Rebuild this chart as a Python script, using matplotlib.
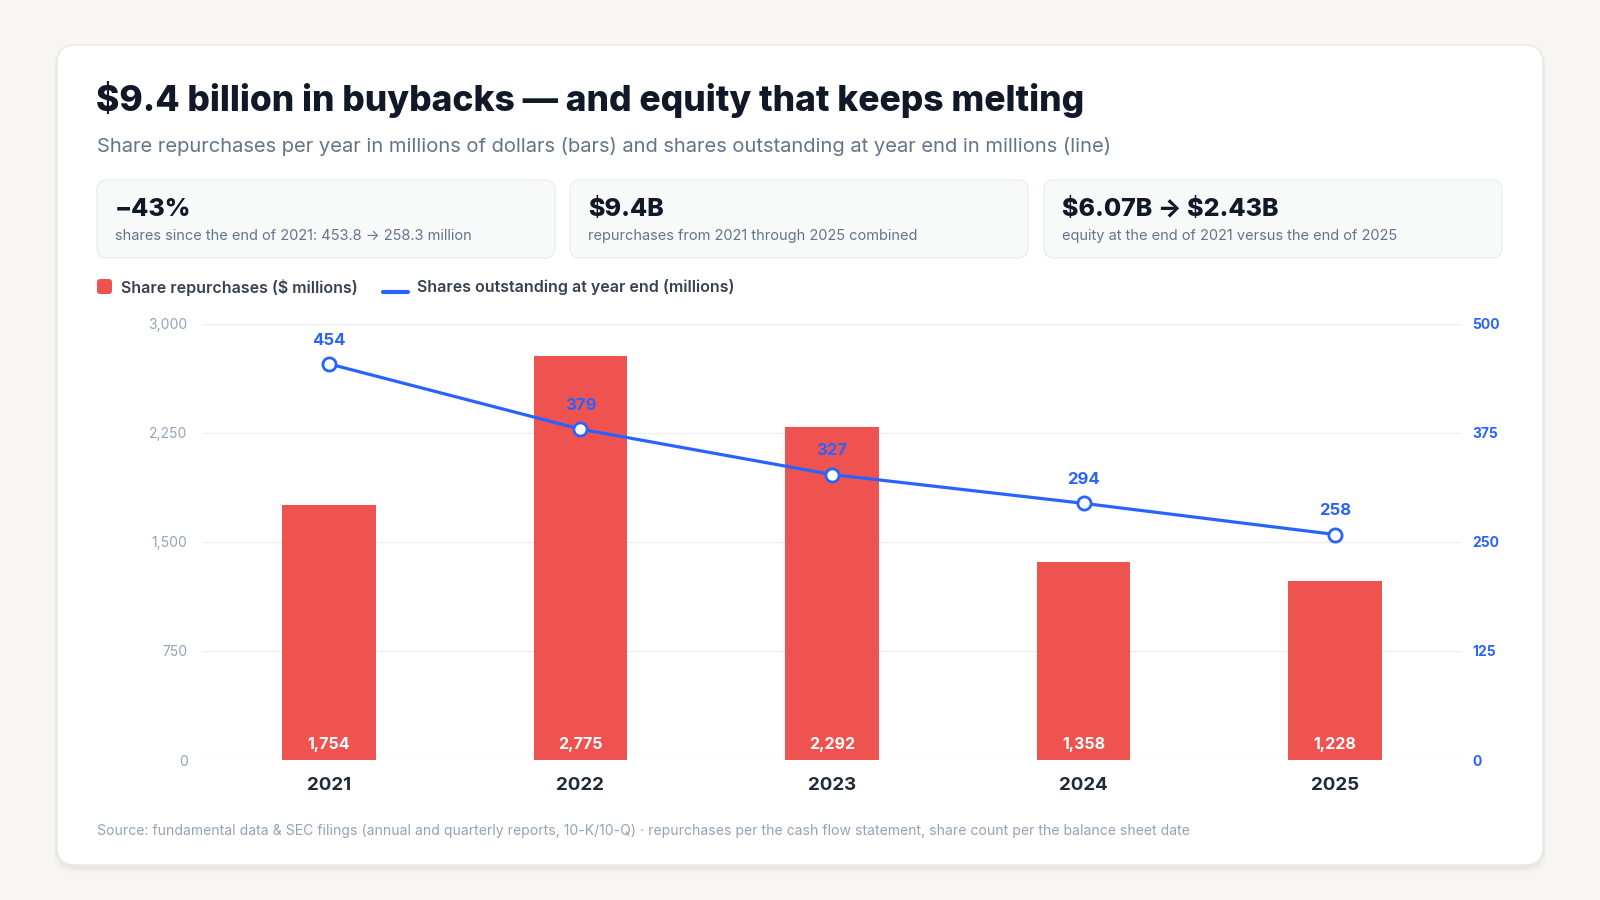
"""
Buybacks vs. shares outstanding, 2021-2025
"""

import matplotlib
matplotlib.use('Agg')
import matplotlib.pyplot as plt
from matplotlib.patches import FancyBboxPatch
from matplotlib.lines import Line2D

plt.rcParams['font.family'] = ['Inter', 'DejaVu Sans']

# data
years = ['2021', '2022', '2023', '2024', '2025']
repurchases = [1754, 2775, 2292, 1358, 1228]          # $ millions
shares_out = [453.8, 379.0, 327.0, 294.0, 258.3]      # millions
left_ticks = [0, 750, 1500, 2250, 3000]
right_ticks = [0, 125, 250, 375, 500]

kpi_values = ['\u221243%', '$9.4B', '$6.07B \u2192 $2.43B']
kpi_notes = ['shares since the end of 2021: 453.8 \u2192 258.3 million',
             'repurchases from 2021 through 2025 combined',
             'equity at the end of 2021 versus the end of 2025']

title = '$9.4 billion in buybacks \u2014 and equity that keeps melting'
subtitle = ('Share repurchases per year in millions of dollars (bars) and '
            'shares outstanding at year end in millions (line)')
source = ('Source: fundamental data & SEC filings (annual and quarterly reports, 10-K/10-Q) '
          '\u00b7 repurchases per the cash flow statement, share count per the balance sheet date')

# colors
BG = '#F7F6F2'
RED = '#EF5350'
BLUE = '#2962FF'
DARK = '#111827'
MID = '#64748B'
LIGHT = '#94A3B8'

W, H = 1600, 900
fig = plt.figure(figsize=(16, 9), dpi=100, facecolor=BG)

# background layer in pixel coordinates
bg = fig.add_axes([0, 0, 1, 1])
bg.set_xlim(0, W)
bg.set_ylim(H, 0)
bg.axis('off')

def txt(x, y, s, **kw):
    bg.text(x, y, s, va='center', ha='left', parse_math=False, **kw)

# card shadow + card
for i, a in enumerate([0.025, 0.02, 0.015]):
    d = 2 + i * 2
    bg.add_patch(FancyBboxPatch((57 - d / 2, 45 + 2), 1486 + d, 820 + d,
                                boxstyle='round,pad=0,rounding_size=20',
                                facecolor='black', alpha=a, edgecolor='none'))
bg.add_patch(FancyBboxPatch((57, 45), 1486, 820,
                            boxstyle='round,pad=0,rounding_size=18',
                            facecolor='white', edgecolor='#E8E8E8', linewidth=1))

txt(96, 100, title, fontsize=25.5, fontweight='heavy', color=DARK)
txt(97, 146.5, subtitle, fontsize=14.5, color=MID)

# KPI boxes
kpi_x = [97, 570, 1044]
for x, val, note in zip(kpi_x, kpi_values, kpi_notes):
    bg.add_patch(FancyBboxPatch((x, 180), 458, 78,
                                boxstyle='round,pad=0,rounding_size=10',
                                facecolor='#F8F9F9', edgecolor='#ECEEEF', linewidth=1))
    txt(x + 18, 209, val, fontsize=18, fontweight='heavy', color=DARK)
    txt(x + 18, 236, note, fontsize=10.5, color=MID)

# legend
bg.add_patch(FancyBboxPatch((97, 279), 15, 15, boxstyle='round,pad=0,rounding_size=3',
                            facecolor=RED, edgecolor='none'))
txt(121, 287, 'Share repurchases ($ millions)', fontsize=11.5, fontweight='semibold',
    color='#374151')
bg.add_line(Line2D([383, 408], [292, 292], color=BLUE, linewidth=3, solid_capstyle='round'))
txt(417, 287, 'Shares outstanding at year end (millions)', fontsize=11.5,
    fontweight='semibold', color='#374151')

txt(97, 831, source, fontsize=10.1, color=LIGHT)

# chart axes
left, right, top, bottom = 203, 1461, 323.5, 760
ax = fig.add_axes([left / W, 1 - bottom / H, (right - left) / W, (bottom - top) / H])
ax.set_facecolor('none')
x = list(range(len(years)))
ax.bar(x, repurchases, width=0.372, color=RED, zorder=2)
for xi, v in zip(x, repurchases):
    ax.annotate(f'{v:,}', (xi, 0), xytext=(0, 11.5), textcoords='offset points',
                ha='center', va='center', color='white', fontsize=11.5, fontweight='bold', zorder=3)
ax.set_xlim(-0.5, len(years) - 0.5)
ax.set_ylim(0, 3000)
ax.set_yticks(left_ticks)
ax.set_yticklabels([f'{t:,}' for t in left_ticks])
ax.set_xticks(x)
ax.set_xticklabels(years)
ax.tick_params(axis='y', length=0, pad=11, labelsize=10, labelcolor=LIGHT)
ax.tick_params(axis='x', length=0, pad=12, labelsize=13.5, labelcolor='#1F2937')
for lbl in ax.get_xticklabels():
    lbl.set_fontweight('bold')
ax.grid(axis='y', color='#EEEEEE', linewidth=1, zorder=0)
for s in ax.spines.values():
    s.set_visible(False)

ax2 = ax.twinx()
ax2.set_ylim(0, 500)
ax2.set_yticks(right_ticks)
ax2.tick_params(axis='y', length=0, pad=8, labelsize=10, labelcolor=BLUE)
for lbl in ax2.get_yticklabels():
    lbl.set_fontweight('bold')
for s in ax2.spines.values():
    s.set_visible(False)
ax2.plot(x, shares_out, color=BLUE, linewidth=2.3, marker='o', markersize=9.5,
         markerfacecolor='white', markeredgecolor=BLUE, markeredgewidth=2, zorder=4)
for xi, v in zip(x, shares_out):
    ax2.annotate(f'{v:.0f}', (xi, v), xytext=(0, 17), textcoords='offset points',
                 ha='center', va='center', color=BLUE, fontsize=12, fontweight='bold')

fig.savefig('out.png', dpi=100, facecolor=BG)
